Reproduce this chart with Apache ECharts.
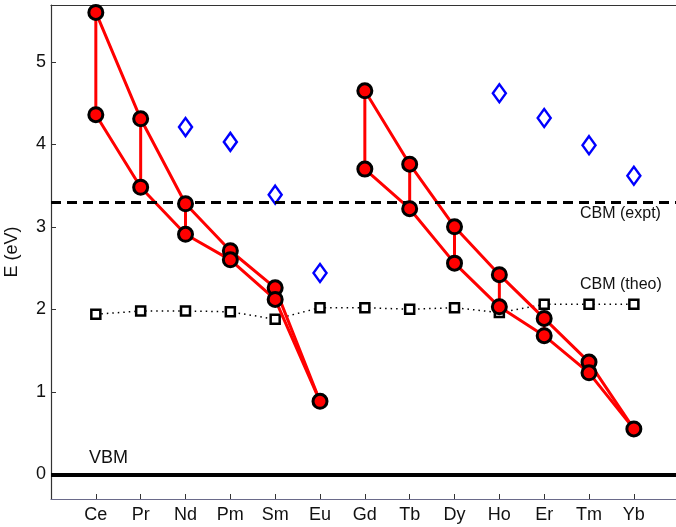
<!DOCTYPE html>
<html>
<head>
<meta charset="utf-8">
<script src="https://cdn.jsdelivr.net/npm/echarts@6/dist/echarts.min.js"></script>
<style>html,body{margin:0;padding:0;background:#fff;}#c{width:676px;height:527px;}</style>
</head>
<body>
<div id="c"></div>
<script>
const elements = ['Ce','Pr','Nd','Pm','Sm','Eu','Gd','Tb','Dy','Ho','Er','Tm','Yb'];
const upperLevels = [5.60,4.31,3.28,2.71,2.26,0.885,4.65,3.76,3.00,2.42,1.89,1.36,0.55];
const lowerLevels = [4.36,3.48,2.91,2.60,2.12,0.885,3.70,3.22,2.56,2.03,1.68,1.23,0.55];
const exptLevels = [null,null,4.21,4.03,3.39,2.44,null,null,null,4.62,4.32,3.99,3.62];
const cbmTheo = [1.94,1.98,1.98,1.97,1.88,2.02,2.02,2.00,2.02,1.96,2.06,2.06,2.06];
const groups = [[0,5],[6,12]];
const cbmExpt = 3.30;
const vbm = 0;
const yTicks = [0,1,2,3,4,5];
const FONT = '"Liberation Sans", Arial, sans-serif';

function chain(arr, g) {
  const out = [];
  for (let i = g[0]; i <= g[1]; i++) out.push([i, arr[i]]);
  return out;
}
const redLines = [];
groups.forEach(g => {
  redLines.push(chain(upperLevels, g));
  redLines.push(chain(lowerLevels, g));
});
const verticals = [];
elements.forEach((e, i) => {
  if (upperLevels[i] !== lowerLevels[i]) {
    verticals.push([i, upperLevels[i]], [i, lowerLevels[i]], '-');
  }
});
const circles = [];
elements.forEach((e, i) => {
  circles.push([i, upperLevels[i]]);
  if (lowerLevels[i] !== upperLevels[i]) circles.push([i, lowerLevels[i]]);
});
const diamonds = exptLevels.map((v, i) => v == null ? null : [i, v]).filter(d => d);
const squares = cbmTheo.map((v, i) => [i, v]);

const series = [];
series.push({
  type: 'line', data: squares, z: 2,
  symbol: 'rect', symbolSize: 9, showSymbol: true,
  lineStyle: { color: '#000', width: 1.5, type: [1.5, 4] },
  itemStyle: { color: '#fff', borderColor: '#000', borderWidth: 2.5 },
  silent: true, animation: false
});
redLines.forEach(d => series.push({
  type: 'line', data: d, showSymbol: false, z: 3,
  lineStyle: { color: '#ff0000', width: 3 }, silent: true, animation: false
}));
series.push({
  type: 'line', data: verticals, showSymbol: false, z: 3, connectNulls: false,
  lineStyle: { color: '#ff0000', width: 3 }, silent: true, animation: false
});
series.push({
  type: 'scatter', data: circles, z: 5, symbol: 'circle', symbolSize: 14,
  itemStyle: { color: '#ff0000', borderColor: '#000', borderWidth: 3, opacity: 1 },
  silent: true, animation: false
});
series.push({
  type: 'scatter', data: diamonds, z: 4, symbol: 'diamond', symbolSize: [13, 18],
  itemStyle: { color: '#fff', borderColor: '#0000ff', borderWidth: 2.5, opacity: 1 },
  silent: true, animation: false
});
series.push({
  type: 'line', data: [], z: 1, animation: false,
  markLine: {
    silent: true, symbol: 'none', animation: false,
    label: { show: false },
    data: [
      { yAxis: cbmExpt, lineStyle: { color: '#000', width: 3, type: [10, 6] } },
      { yAxis: vbm, lineStyle: { color: '#000', width: 4, type: 'solid' } }
    ]
  }
});

const chart = echarts.init(document.getElementById('c'), null, { renderer: 'canvas' });
chart.setOption({
  animation: false,
  backgroundColor: '#fff',
  grid: { left: 51, right: 0, top: 5, bottom: 28, containLabel: false, outerBoundsMode: 'none' },
  xAxis: [{
    type: 'value', min: -1, max: 12.94, position: 'bottom',
    axisLine: { show: true, onZero: false, lineStyle: { color: '#6a6a8a', width: 1.2 } },
    axisTick: { show: true, inside: true, length: 5, customValues: elements.map((e, i) => i), lineStyle: { color: '#333' } },
    axisLabel: { show: true, customValues: elements.map((e, i) => i), formatter: v => elements[Math.round(v)] || '',
      fontSize: 18, fontFamily: FONT, color: '#111', margin: 7 },
    splitLine: { show: false }
  }, {
    type: 'value', min: -1, max: 12.94, position: 'top',
    axisLine: { show: true, onZero: false, lineStyle: { color: '#333', width: 1.2 } },
    axisTick: { show: false }, axisLabel: { show: false }, splitLine: { show: false }
  }],
  yAxis: {
    type: 'value', min: -0.3, max: 5.69,
    name: 'E (eV)', nameLocation: 'middle', nameGap: 30, nameRotate: 90,
    nameTextStyle: { fontSize: 18, fontFamily: FONT, color: '#111' },
    axisLine: { show: true, onZero: false, lineStyle: { color: '#333', width: 1.2 } },
    axisTick: { show: true, inside: true, length: 5, customValues: yTicks, lineStyle: { color: '#333' } },
    axisLabel: { show: true, customValues: yTicks, fontSize: 18, fontFamily: FONT, color: '#111', margin: 5 },
    splitLine: { show: false }
  },
  graphic: [
    { type: 'text', left: 89, top: 449, style: { text: 'VBM', font: '18px ' + FONT, fill: '#111' }, z: 10 },
    { type: 'text', left: 580, top: 206, style: { text: 'CBM (expt)', font: '16px ' + FONT, fill: '#111' }, z: 10 },
    { type: 'text', left: 580, top: 277, style: { text: 'CBM (theo)', font: '16px ' + FONT, fill: '#111' }, z: 10 }
  ],
  series: series
});
</script>
</body>
</html>
